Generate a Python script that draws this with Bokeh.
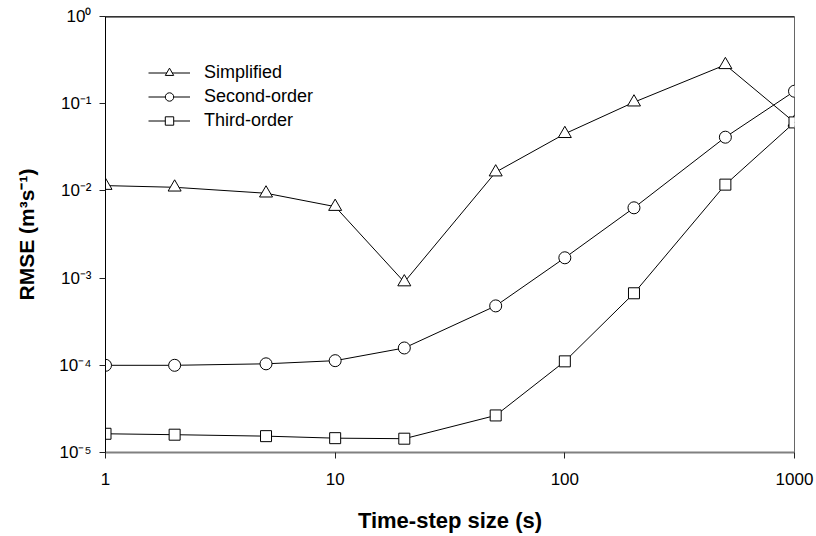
from bokeh.plotting import figure
from bokeh.models import Range1d, FixedTicker, Legend, LegendItem, Span
from bokeh.embed import file_html
from bokeh.resources import INLINE

# ---- data ----
time_step = [1, 2, 5, 10, 20, 50, 100, 200, 500, 1000]
simplified = [0.0115, 0.011, 0.0094, 0.0066, 0.00090, 0.0164, 0.0452, 0.104, 0.279, 0.061]
second_order = [1.0e-4, 1.0e-4, 1.04e-4, 1.13e-4, 1.58e-4, 4.8e-4, 1.71e-3, 6.4e-3, 0.0413, 0.139]
third_order = [1.64e-5, 1.6e-5, 1.54e-5, 1.46e-5, 1.44e-5, 2.66e-5, 1.11e-4, 6.7e-4, 0.0118, 0.061]

x_ticks = [1, 10, 100, 1000]
x_tick_labels = ["1", "10", "100", "1000"]
y_ticks = [1e-5, 1e-4, 1e-3, 1e-2, 1e-1, 1.0]
y_tick_labels = ["10\u207b\u2075", "10\u207b\u2074", "10\u207b\u00b3", "10\u207b\u00b2", "10\u207b\u00b9", "10\u2070"]

series_names = ["Simplified", "Second-order", "Third-order"]

FONT = "Liberation Sans"

p = figure(width=816, height=536, x_axis_type="log", y_axis_type="log",
           x_range=Range1d(1, 1000), y_range=Range1d(1e-5, 1.0),
           output_backend="svg", toolbar_location=None,
           min_border_left=105, min_border_right=22, min_border_top=16, min_border_bottom=84)
p.background_fill_color = "white"
p.border_fill_color = "white"
p.grid.visible = False
p.outline_line_color = "#666666"
p.outline_line_width = 1

# axes
p.xaxis.ticker = FixedTicker(ticks=x_ticks, minor_ticks=[])
p.yaxis.ticker = FixedTicker(ticks=y_ticks, minor_ticks=[])
p.xaxis.major_label_overrides = {t: l for t, l in zip(x_ticks, x_tick_labels)}
p.yaxis.major_label_overrides = {t: l for t, l in zip(y_ticks, y_tick_labels)}

for ax in (p.xaxis, p.yaxis):
    ax.major_tick_in = 0
    ax.major_tick_out = 6
    ax.minor_tick_line_color = None
    ax.major_label_text_font = FONT
    ax.major_label_text_font_size = "17px"
    ax.major_label_text_color = "black"
    ax.axis_label_text_font = FONT
    ax.axis_label_text_font_style = "bold"
    ax.axis_label_text_color = "black"
    ax.major_tick_line_color = "#222222"

p.xaxis.axis_label_text_font_size = "22px"
p.yaxis.axis_label_text_font_size = "21px"
p.xaxis.axis_line_color = "#808080"
p.xaxis.axis_line_width = 2
p.yaxis.axis_line_color = "black"
p.xaxis.major_label_standoff = 14
p.yaxis.major_label_standoff = 8
p.xaxis.axis_label = "Time-step size (s)"
p.yaxis.axis_label = "RMSE (m\u00b3s\u207b\u00b9)"
p.xaxis.axis_label_standoff = 20
p.yaxis.axis_label_standoff = 18

# top border thicker
p.add_layout(Span(location=1.0, dimension="width", line_color="black", line_width=2))

# series
l1 = p.line(time_step, simplified, line_color="black", line_width=1)
m1 = p.scatter(time_step, simplified, marker="triangle", size=13, fill_color="white",
               line_color="black", line_width=1)
l2 = p.line(time_step, second_order, line_color="black", line_width=1)
m2 = p.scatter(time_step, second_order, marker="circle", size=12, fill_color="white",
               line_color="black", line_width=1)
l3 = p.line(time_step, third_order, line_color="black", line_width=1)
m3 = p.scatter(time_step, third_order, marker="square", size=11, fill_color="white",
               line_color="black", line_width=1)

legend = Legend(items=[
    LegendItem(label=series_names[0], renderers=[l1, m1]),
    LegendItem(label=series_names[1], renderers=[l2, m2]),
    LegendItem(label=series_names[2], renderers=[l3, m3]),
], location=(43, 321))
legend.border_line_color = None
legend.background_fill_alpha = 0
legend.padding = 0
legend.margin = 0
legend.spacing = 3
legend.glyph_width = 42
legend.glyph_height = 21
legend.label_standoff = 14
legend.label_text_font = FONT
legend.label_text_font_size = "18px"
legend.label_text_color = "black"
p.add_layout(legend)

open("out.html", "w").write(file_html(p, INLINE))
